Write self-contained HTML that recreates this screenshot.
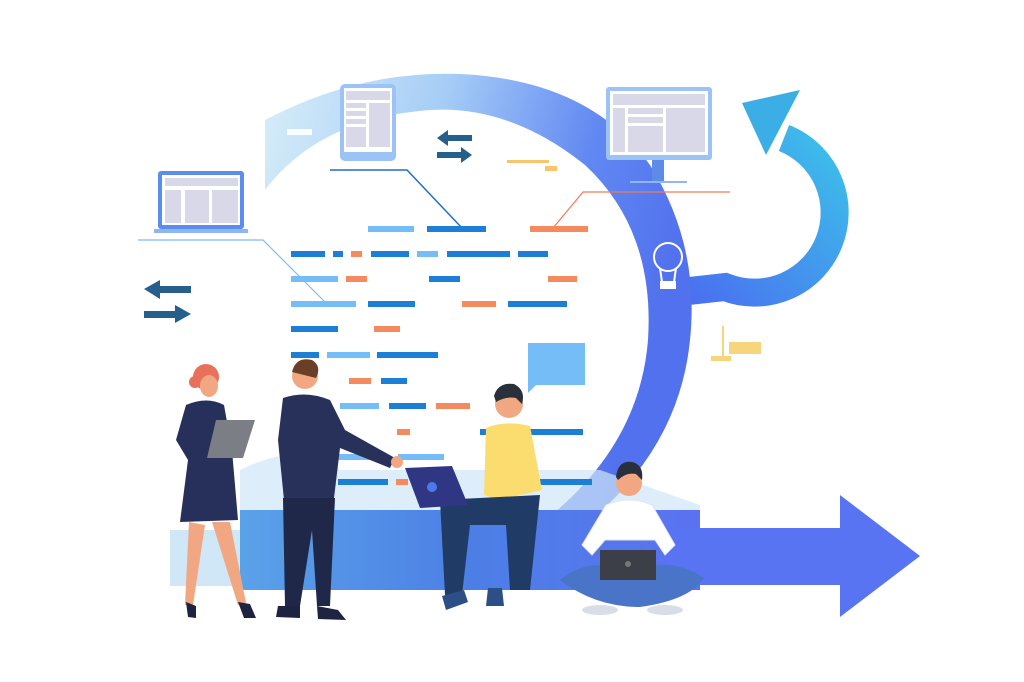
<!DOCTYPE html>
<html><head><meta charset="utf-8"><style>html,body{margin:0;padding:0;background:#fff}svg{display:block}</style></head>
<body>
<svg width="1024" height="682" viewBox="0 0 1024 682" xmlns="http://www.w3.org/2000/svg" font-family="Liberation Sans, sans-serif">
<defs>
<linearGradient id="ga" x1="0" y1="0" x2="1" y2="0.3">
<stop offset="0" stop-color="#d8eef9"/><stop offset="0.4" stop-color="#a6cdf6"/><stop offset="0.75" stop-color="#6188f2"/><stop offset="1" stop-color="#5271ee"/></linearGradient>
<linearGradient id="gb" x1="0" y1="0" x2="1" y2="0">
<stop offset="0" stop-color="#5aa2e8"/><stop offset="0.5" stop-color="#4c7fe6"/><stop offset="1" stop-color="#5a72ef"/></linearGradient>
<linearGradient id="gc" x1="0" y1="1" x2="1" y2="0">
<stop offset="0" stop-color="#4a6ff0"/><stop offset="1" stop-color="#3cc0ea"/></linearGradient>
</defs>
<!-- cyan arrow (behind big arc) -->
<path d="M680 292 L725 287 A80 80 0 1 0 784 138" fill="none" stroke="url(#gc)" stroke-width="28"/>
<polygon points="742,103 800,90 766,155" fill="#3caee6"/>
<!-- big arc -->
<path d="M265 120 Q360 70 460 74 Q590 80 650 165 Q700 245 690 340 Q680 440 600 512 L555 512 Q640 440 648 340 Q655 230 585 165 Q510 105 430 110 Q320 118 265 190 Z" fill="url(#ga)"/>
<!-- bottom band -->
<rect x="170" y="530" width="80" height="56" fill="#cfe7f7"/>
<path d="M240 470 Q300 440 340 470 L600 470 L700 505 L700 590 L240 590 Z" fill="#cfe7f8" opacity="0.7"/>
<rect x="240" y="510" width="460" height="80" fill="url(#gb)"/>
<!-- big arrow -->
<polygon points="660,528 840,528 840,495 920,556 840,617 840,585 660,585" fill="#5874f2"/>
<!-- lightbulb -->
<g fill="none" stroke="#fff" stroke-width="2"><circle cx="668" cy="257" r="14"/><path d="M660 268 L662 282 L674 282 L676 268"/><rect x="661" y="282" width="14" height="6" fill="#fff"/></g>
<!-- laptop -->
<rect x="158" y="171" width="86" height="58" rx="3" fill="#5b8def"/><rect x="162" y="175" width="78" height="50" fill="#fff"/>
<rect x="165" y="178" width="73" height="8" fill="#d9d8e8"/><rect x="165" y="190" width="16" height="33" fill="#d9d8e8"/><rect x="185" y="190" width="24" height="33" fill="#d9d8e8"/><rect x="212" y="190" width="26" height="33" fill="#d9d8e8"/>
<rect x="154" y="229" width="94" height="4" fill="#8fb6f3"/>
<!-- tablet -->
<rect x="340" y="84" width="56" height="77" rx="5" fill="#9cc3f6"/><rect x="344" y="88" width="48" height="64" fill="#fff"/>
<rect x="346" y="91" width="44" height="9" fill="#d9d8e8"/><rect x="346" y="103" width="20" height="5" fill="#d9d8e8"/><rect x="346" y="111" width="20" height="5" fill="#d9d8e8"/><rect x="346" y="119" width="20" height="5" fill="#d9d8e8"/><rect x="346" y="127" width="20" height="20" fill="#d9d8e8"/><rect x="369" y="103" width="21" height="44" fill="#d9d8e8"/>
<!-- monitor -->
<rect x="606" y="87" width="106" height="73" rx="3" fill="#9cc3f6"/><rect x="610" y="91" width="98" height="64" fill="#fff"/>
<rect x="613" y="94" width="92" height="11" fill="#d9d8e8"/><rect x="613" y="108" width="12" height="44" fill="#d9d8e8"/><rect x="628" y="108" width="35" height="6" fill="#d9d8e8"/><rect x="628" y="117" width="35" height="6" fill="#d9d8e8"/><rect x="628" y="126" width="35" height="26" fill="#d9d8e8"/><rect x="666" y="108" width="39" height="44" fill="#d9d8e8"/>
<rect x="652" y="160" width="12" height="22" fill="#5d8be8"/><rect x="630" y="181" width="57" height="2" fill="#8fb6f3"/>
<rect x="287" y="129" width="25" height="6" fill="#fff" opacity="0.9"/>
<!-- connectors -->
<polyline points="138,240 263,240 325,302" fill="none" stroke="#7bbcf5" stroke-width="1.2"/>
<polyline points="330,170 407,170 462,228" fill="none" stroke="#1f6fc6" stroke-width="1.5"/>
<polyline points="730,192 583,192 553,228" fill="none" stroke="#f07a56" stroke-width="1.2"/>
<!-- double arrows -->
<g fill="#265f8c">
<polygon points="437,138 448,130 448,135 472,135 472,141 448,141 448,146"/>
<polygon points="472,155 461,147 461,152 437,152 437,158 461,158 461,163"/>
<polygon points="144,289 160,280 160,286 191,286 191,293 160,293 160,299"/>
<polygon points="191,314 175,305 175,311 144,311 144,318 175,318 175,323"/>
</g>
<!-- yellow bits -->
<rect x="507" y="160" width="42" height="3" fill="#f7c56c"/><rect x="545" y="166" width="12" height="5" fill="#f7c56c"/>
<rect x="722" y="326" width="2" height="30" fill="#f7d57c"/><rect x="729" y="342" width="32" height="12" fill="#f7d57c"/><rect x="711" y="356" width="20" height="5" fill="#f7d57c"/>
<!-- code dashes -->
<g>
<rect x="368" y="226" width="46" height="6" fill="#74bdf7"/><rect x="427" y="226" width="59" height="6" fill="#1d7ed6"/><rect x="530" y="226" width="58" height="6" fill="#f58a5e"/>
<rect x="291" y="251" width="34" height="6" fill="#1d7ed6"/><rect x="333" y="251" width="10" height="6" fill="#1d7ed6"/><rect x="351" y="251" width="11" height="6" fill="#f58a5e"/><rect x="371" y="251" width="38" height="6" fill="#1d7ed6"/><rect x="417" y="251" width="21" height="6" fill="#74bdf7"/><rect x="447" y="251" width="63" height="6" fill="#1d7ed6"/><rect x="518" y="251" width="30" height="6" fill="#1d7ed6"/>
<rect x="291" y="276" width="47" height="6" fill="#74bdf7"/><rect x="346" y="276" width="21" height="6" fill="#f58a5e"/><rect x="429" y="276" width="31" height="6" fill="#1d7ed6"/><rect x="548" y="276" width="29" height="6" fill="#f58a5e"/>
<rect x="291" y="301" width="65" height="6" fill="#74bdf7"/><rect x="368" y="301" width="47" height="6" fill="#1d7ed6"/><rect x="462" y="301" width="34" height="6" fill="#f58a5e"/><rect x="508" y="301" width="59" height="6" fill="#1d7ed6"/>
<rect x="291" y="326" width="47" height="6" fill="#1d7ed6"/><rect x="374" y="326" width="26" height="6" fill="#f58a5e"/>
<rect x="291" y="352" width="28" height="6" fill="#1d7ed6"/><rect x="327" y="352" width="43" height="6" fill="#74bdf7"/><rect x="377" y="352" width="61" height="6" fill="#1d7ed6"/>
<rect x="349" y="378" width="22" height="6" fill="#f58a5e"/><rect x="381" y="378" width="26" height="6" fill="#1d7ed6"/>
<rect x="340" y="403" width="39" height="6" fill="#74bdf7"/><rect x="389" y="403" width="37" height="6" fill="#1d7ed6"/><rect x="436" y="403" width="34" height="6" fill="#f58a5e"/>
<rect x="397" y="429" width="13" height="6" fill="#f58a5e"/><rect x="480" y="429" width="103" height="6" fill="#1d7ed6"/>
<rect x="336" y="454" width="52" height="6" fill="#74bdf7"/><rect x="398" y="454" width="46" height="6" fill="#74bdf7"/>
<rect x="338" y="479" width="50" height="6" fill="#1d7ed6"/><rect x="396" y="479" width="12" height="6" fill="#f58a5e"/><rect x="540" y="479" width="52" height="6" fill="#1d7ed6"/>
</g>
<!-- speech bubble -->
<path d="M528 343 H585 V385 H536 L528 393 Z" fill="#74bdf7"/>
<!-- woman -->
<circle cx="206" cy="377" r="13" fill="#e9715a"/><circle cx="195" cy="382" r="6" fill="#e9715a"/>
<ellipse cx="209" cy="386" rx="9" ry="11" fill="#f1a882"/>
<path d="M186 405 Q207 396 224 405 L232 450 L238 520 L180 522 L188 460 L176 440 Z" fill="#27305a"/>
<path d="M189 522 L185 605 L193 605 L205 525 Z M212 522 L238 605 L246 603 L230 522 Z" fill="#f1a882"/>
<path d="M186 602 L196 606 L196 618 L188 617 Z M238 602 L250 604 L256 618 L244 618 Z" fill="#1d2340"/>
<polygon points="216,420 255,420 243,458 207,458" fill="#7b7e85"/>
<!-- man suit -->
<circle cx="305" cy="376" r="13" fill="#f1a882"/><path d="M292 372 Q296 356 312 360 Q322 366 316 378 Z" fill="#6a3f25"/>
<path d="M283 398 Q306 390 330 400 L345 430 L395 458 L390 468 L340 448 L334 498 L284 500 L278 440 Z" fill="#28315a"/>
<circle cx="397" cy="462" r="6" fill="#f1a882"/>
<path d="M283 498 L335 498 L330 606 L317 606 L312 530 L300 606 L285 606 Z" fill="#20284a"/>
<path d="M278 606 L300 606 L300 618 L276 617 Z M317 606 L338 610 L346 620 L318 619 Z" fill="#1d2340"/>
<!-- seated man yellow -->
<circle cx="509" cy="404" r="14" fill="#f1a882"/><path d="M494 396 Q498 382 514 384 Q526 390 522 404 L516 398 Q506 396 496 402 Z" fill="#2a2f3c"/>
<path d="M486 428 Q505 420 530 426 L542 490 L500 500 L484 495 Z" fill="#fbdc6e"/>
<path d="M440 500 L540 495 L530 590 L510 590 L506 525 L470 525 L462 595 L445 595 Z" fill="#1f3b66"/>
<path d="M442 596 L464 590 L468 602 L446 610 Z M488 588 L502 588 L504 606 L486 606 Z" fill="#2b4f86"/>
<polygon points="405,468 452,466 468,505 420,508" fill="#2f3785"/><circle cx="432" cy="487" r="5" fill="#4d7ae6"/>
<!-- sitting man white -->
<circle cx="629" cy="483" r="13" fill="#f1a882"/><path d="M616 477 Q618 460 632 462 Q644 465 642 480 L636 474 Q626 472 618 480 Z" fill="#2a2f3c"/>
<path d="M606 505 Q629 495 652 505 L675 545 L665 555 L655 540 L605 540 L592 555 L582 545 Z" fill="#ffffff" stroke="#e3e6ee"/>
<path d="M560 580 Q590 555 629 572 Q670 555 704 578 Q690 600 640 607 Q595 607 560 580 Z" fill="#4a74c8"/>
<rect x="600" y="550" width="56" height="30" fill="#3c3f48"/><circle cx="628" cy="564" r="3" fill="#777"/>
<ellipse cx="600" cy="610" rx="18" ry="5" fill="#d8dde8"/><ellipse cx="665" cy="610" rx="18" ry="5" fill="#d8dde8"/>
</svg>
</body></html>
